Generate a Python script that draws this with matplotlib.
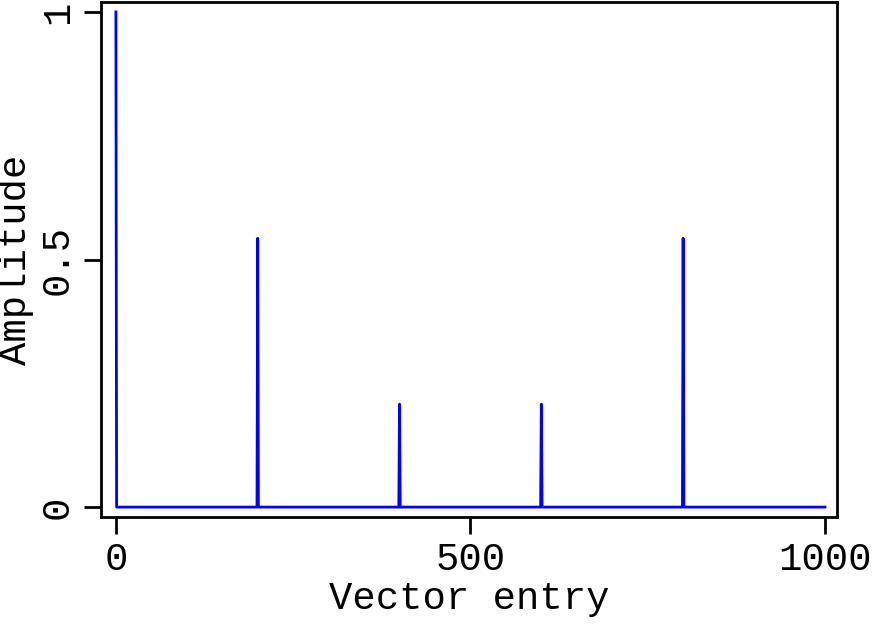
import numpy as np
import matplotlib.pyplot as plt

# spike positions and heights
n_entries = 1001
spike_idx = [0, 200, 400, 600, 800]
spike_amp = [1.0, 0.543, 0.208, 0.208, 0.543]

vec = np.zeros(n_entries)
vec[spike_idx] = spike_amp
entry = np.arange(n_entries)

plt.rcParams['font.family'] = ['Liberation Mono', 'DejaVu Sans Mono']
plt.rcParams['font.size'] = 28

fig = plt.figure(figsize=(8.75, 6.24), dpi=100)
ax = fig.add_axes([101/875, 1 - 517/624, (837-101)/875, (517-2)/624])
ax.plot(entry, vec, color='blue', lw=2)

ax.set_xlim(-21, 1017)
ax.set_ylim(-0.02, 1.02)
ax.set_xticks([0, 500, 1000])
ax.set_yticks([0, 0.5, 1])
ax.set_yticklabels(['0', '0.5', '1'], rotation=90, va='center')
ax.set_xlabel('Vector entry', labelpad=2)
ax.set_ylabel('Amplitude', labelpad=4)
for s in ax.spines.values():
    s.set_linewidth(2)
ax.tick_params(width=2, length=12, pad=6)

fig.savefig('out.png')
